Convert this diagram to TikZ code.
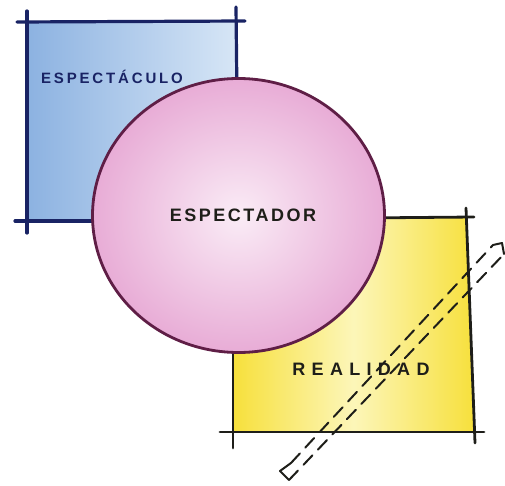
\documentclass[tikz,border=0pt]{standalone}
\usepackage{fontspec}
\setmainfont{Liberation Sans}
\usetikzlibrary{shapes.geometric}
\definecolor{bluelight}{RGB}{215,230,246}
\definecolor{bluedark}{RGB}{140,178,225}
\definecolor{blueline}{RGB}{25,35,100}
\definecolor{pinklight}{RGB}{250,236,246}
\definecolor{pinkdark}{RGB}{232,172,214}
\definecolor{pinkline}{RGB}{95,30,70}
\definecolor{yellowlight}{RGB}{252,246,185}
\definecolor{yellowdark}{RGB}{247,224,60}
\definecolor{inkline}{RGB}{30,30,25}
\tikzset{
  blueink/.style={draw=blueline, line width=3.2pt, line cap=round},
  yellowink/.style={draw=inkline, line width=2.8pt, line cap=round},
  bandline/.style={draw=inkline, line width=2pt, dash pattern=on 13pt off 8pt, line cap=round},
  bandcap/.style={draw=inkline, line width=2pt, line cap=round, line join=round},
  lettering/.style={font=\bfseries\fontsize{18}{18}\selectfont, inner sep=0pt}
}
\begin{document}
\begin{tikzpicture}[x=1pt,y=-1pt]
\useasboundingbox (0,0) rectangle (505,486);
% corner coordinates
\coordinate (b1) at (27,22);  \coordinate (b2) at (237,22);
\coordinate (b3) at (237,221); \coordinate (b4) at (27,221);
\coordinate (y1) at (233,218); \coordinate (y2) at (467,218);
\coordinate (y3) at (474,432); \coordinate (y4) at (233,432);
% fills
\shade[shading angle=135, left color=bluedark, right color=bluelight] (b1) -- (b2) -- (b3) -- (b4) -- cycle;
\shade[left color=yellowdark, right color=yellowdark, middle color=yellowlight] (y1) -- (y2) -- (y3) -- (y4) -- cycle;
% blue square outline with overshoot
\coordinate (bt1) at (17,22);  \coordinate (bt2) at (245,21);
\coordinate (bl1) at (27,11);  \coordinate (bl2) at (27,233);
\coordinate (br1) at (236,7);  \coordinate (br2) at (237,100);
\coordinate (bb1) at (15,221); \coordinate (bb2) at (110,221);
\draw[blueink] (bt1) -- (bt2);
\draw[blueink] (bl1) -- (bl2);
\draw[blueink] (br1) -- (br2);
\draw[blueink] (bb1) -- (bb2);
% yellow square outline with overshoot
\coordinate (yt1) at (360,218); \coordinate (yt2) at (474,217);
\coordinate (yr1) at (466,208); \coordinate (yr2) at (475,443);
\coordinate (yb1) at (220,432); \coordinate (yb2) at (484,432);
\coordinate (yl1) at (233,340); \coordinate (yl2) at (233,448);
\draw[yellowink] (yt1) -- (yt2);
\draw[yellowink] (yr1) -- (yr2);
\draw[yellowink] (yb1) -- (yb2);
\draw[yellowink] (yl1) -- (yl2);
% circle
\node[ellipse, draw=pinkline, line width=2.8pt, inner color=pinklight, outer color=pinkdark,
      minimum width=292pt, minimum height=274pt, inner sep=0pt] (circ) at (238.5,215.5) {};
% labels
\node[lettering, text=blueline, font=\bfseries\fontsize{15}{15}\selectfont] (espectaculo) at (112,77) {\addfontfeature{LetterSpace=19}ESPECTÁCULO};
\node[lettering, text=inkline] (espectador) at (243,215) {\addfontfeature{LetterSpace=14}ESPECTADOR};
\node[lettering, text=inkline] (realidad) at (361,369) {\addfontfeature{LetterSpace=35}REALIDAD};
% dashed band
\coordinate (u1) at (291,463); \coordinate (u2) at (493,245);
\coordinate (l1) at (289,480); \coordinate (l2) at (504,254);
\coordinate (v1) at (280,471); \coordinate (v2) at (502,243);
\draw[bandline] (u1) -- (u2);
\draw[bandline] (l1) -- (l2);
\draw[bandcap] (u1) -- (v1) -- (l1);
\draw[bandcap] (u2) -- (v2) -- (l2);
\end{tikzpicture}
\end{document}
